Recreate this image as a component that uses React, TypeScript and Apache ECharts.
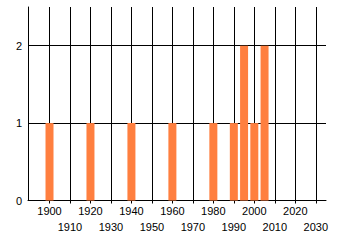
import React, { useEffect, useRef } from "react";
import * as echarts from "echarts";

const years = [1900, 1920, 1940, 1960, 1980, 1990, 1995, 2000, 2005];
const counts = [1, 1, 1, 1, 1, 1, 2, 1, 2];
const xTicks = [1900, 1910, 1920, 1930, 1940, 1950, 1960, 1970, 1980, 1990, 2000, 2010, 2020, 2030];
const xLabelsRow1 = [1900, 1920, 1940, 1960, 1980, 2000, 2020];
const xLabelsRow2 = [1910, 1930, 1950, 1970, 1990, 2010, 2030];
const yTicks = [0, 1, 2];

const FONT = "Liberation Sans";

export default function App() {
  const ref = useRef<HTMLDivElement>(null);
  useEffect(() => {
    const chart = echarts.init(ref.current!, null, { renderer: "svg" });
    const labelBase = {
      showMinLabel: true,
      showMaxLabel: true,
      hideOverlap: false,
      color: "#000",
      fontFamily: FONT,
      fontSize: 11,
      lineHeight: 16,
      margin: 2,
      formatter: (v: number) => String(v),
    };
    chart.setOption({
      animation: false,
      backgroundColor: "#ffffff",
      grid: { left: 28, right: 14, top: 7, bottom: 44.5, containLabel: false },
      xAxis: [
        {
          type: "value",
          min: 1889.5,
          max: 2035,
          axisLine: { show: true, lineStyle: { color: "#000", width: 1 } },
          axisTick: { show: true, length: 3, customValues: xTicks, lineStyle: { color: "#000" } },
          splitLine: { show: true, lineStyle: { color: "#000", width: 1 } },
          axisLabel: { ...labelBase, customValues: xLabelsRow1 },
        },
        {
          type: "value",
          position: "bottom",
          offset: 16,
          min: 1889.5,
          max: 2035,
          axisLine: { show: false },
          axisTick: { show: false },
          splitLine: { show: false },
          axisLabel: { ...labelBase, customValues: xLabelsRow2 },
        },
      ],
      yAxis: {
        type: "value",
        min: 0,
        max: 2.5,
        axisLine: { show: true, lineStyle: { color: "#000", width: 1 } },
        axisTick: { show: false, customValues: yTicks },
        splitLine: { show: true, lineStyle: { color: "#000", width: 1 } },
        axisLabel: {
          customValues: yTicks,
          showMinLabel: true,
          showMaxLabel: true,
          color: "#000",
          fontFamily: FONT,
          fontSize: 11,
          margin: 6,
          formatter: (v: number) => String(v),
        },
      },
      series: [
        {
          type: "bar",
          xAxisIndex: 0,
          data: years.map((y, i) => [y, counts[i]]),
          barWidth: 8,
          itemStyle: { color: "#ff7f3f" },
        },
      ],
    });
    return () => chart.dispose();
  }, []);
  return (
    <div
      ref={ref}
      style={{ position: "fixed", left: 0, top: 0, width: 340, height: 245 }}
    />
  );
}
